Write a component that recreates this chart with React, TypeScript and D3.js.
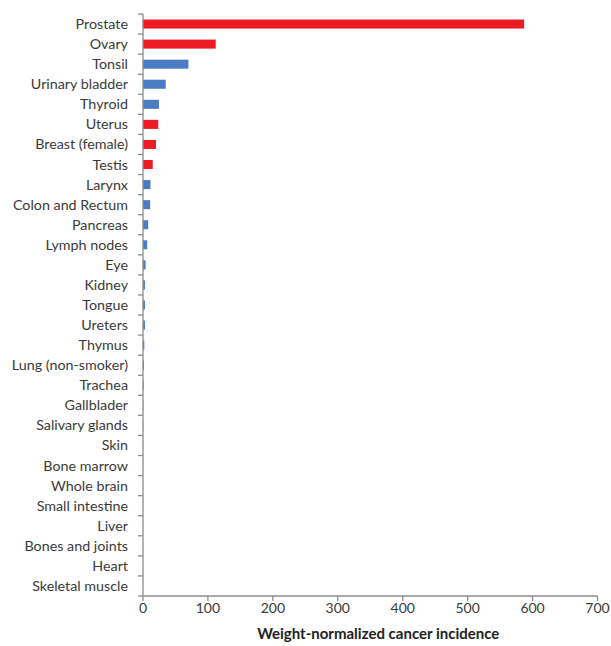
import React from "react";
import * as d3 from "d3";

const categories = [
  "Prostate", "Ovary", "Tonsil", "Urinary bladder", "Thyroid", "Uterus",
  "Breast (female)", "Testis", "Larynx", "Colon and Rectum", "Pancreas",
  "Lymph nodes", "Eye", "Kidney", "Tongue", "Ureters", "Thymus",
  "Lung (non-smoker)", "Trachea", "Gallblader", "Salivary glands", "Skin",
  "Bone marrow", "Whole brain", "Small intestine", "Liver", "Bones and joints",
  "Heart", "Skeletal muscle",
];
const values = [
  587, 112, 70, 35, 24.5, 23.5, 20, 15, 11.5, 11, 8, 6.5, 4, 3, 3, 3, 2,
  1.5, 1, 0.5, 0.4, 0.3, 0.25, 0.2, 0.15, 0.1, 0.1, 0.05, 0.05,
];
const sexSpecific = [
  true, true, false, false, false, true, true, true, false, false, false,
  false, false, false, false, false, false, false, false, false, false, false,
  false, false, false, false, false, false, false,
];
const xTicks = [0, 100, 200, 300, 400, 500, 600, 700];
const xTitle = "Weight-normalized cancer incidence";

const W = 611, H = 646;
const left = 143, right = 597.5, top = 14, bottom = 596;
const font = "Lato, 'Open Sans', sans-serif";

export default function App() {
  const x = d3.scaleLinear().domain([0, 700]).range([left, right]);
  const y = d3.scaleBand<string>().domain(categories).range([top, bottom]).paddingInner(0.55).paddingOuter(0.275);
  const yb = d3.scaleBand<string>().domain(categories).range([top, bottom]);
  const axisColor = "#8c8c8c";
  return (
    <svg width={W} height={H} style={{ position: "absolute", left: 0, top: 0, background: "#fff" }}>
      {categories.map((c, i) => (
        <rect key={c} x={x(0)} y={y(c)} width={Math.max(0, x(values[i]) - x(0))} height={y.bandwidth()}
          fill={sexSpecific[i] ? "#ed1c24" : "#4a7cc4"} />
      ))}
      <line x1={left} x2={left} y1={top} y2={bottom} stroke={axisColor} strokeWidth={1.3} />
      <line x1={left} x2={right} y1={bottom} y2={bottom} stroke={axisColor} strokeWidth={1.3} />
      {categories.map((c) => (
        <line key={"t" + c} x1={left - 5} x2={left} y1={yb(c)} y2={yb(c)} stroke={axisColor} strokeWidth={1.3} />
      ))}
      <line x1={left - 5} x2={left} y1={bottom} y2={bottom} stroke={axisColor} strokeWidth={1.3} />
      {xTicks.map((t) => (
        <g key={t}>
          <line x1={x(t)} x2={x(t)} y1={bottom} y2={bottom + 5} stroke={axisColor} strokeWidth={1.3} />
          <text x={x(t)} y={bottom + 16.5} textAnchor="middle" fontFamily={font} fontSize={14} fill="#3a3a3a">{t}</text>
        </g>
      ))}
      {categories.map((c) => (
        <text key={"l" + c} x={128} y={(yb(c) as number) + yb.bandwidth() / 2} dy="0.35em" textAnchor="end"
          fontFamily={font} fontSize={14.3} fill="#3a3a3a">{c}</text>
      ))}
      <text x={(left + right) / 2 + 8} y={639} textAnchor="middle" fontFamily={font} fontSize={15} fontWeight="bold" fill="#222">{xTitle}</text>
    </svg>
  );
}
